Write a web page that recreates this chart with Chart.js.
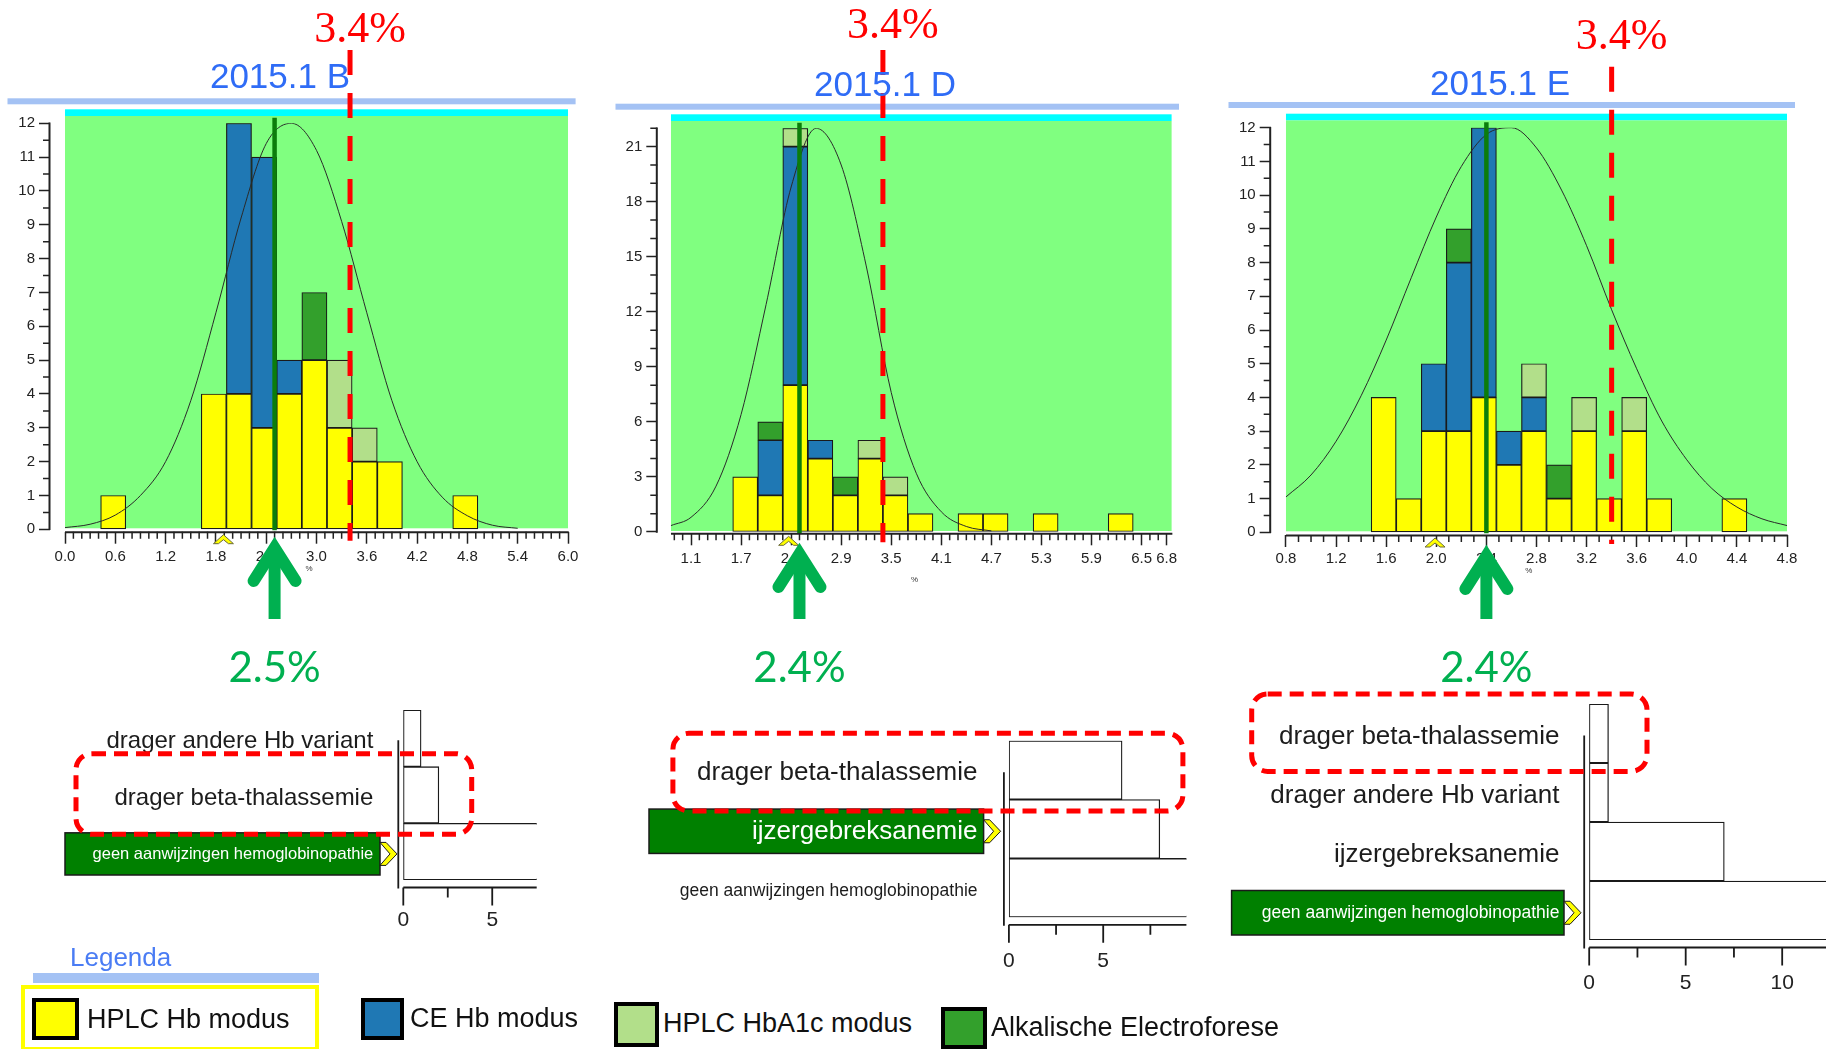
<!DOCTYPE html>
<html lang="nl">
<head>
<meta charset="utf-8">
<title>Hb-varianten rondzending 2015.1</title>
<script src="https://cdn.jsdelivr.net/npm/chart.js@4.4.1/dist/chart.umd.min.js"></script>
<style>
  html, body { margin: 0; padding: 0; background: #fff; }
  body { position: relative; width: 1826px; height: 1049px; overflow: hidden;
         font-family: 'Liberation Sans', Arial, sans-serif; }
  canvas { position: absolute; }
  .abs { position: absolute; white-space: nowrap; }
  .title { font-size: 35px; line-height: 35px; color: #2f6cf6; transform: translateX(-50%); }
  .cut { font-family: 'Liberation Serif', 'Times New Roman', serif; font-size: 44px; line-height: 44px;
         color: #ff0000; transform: translateX(-50%); }
  .meas { font-family: Lato, 'Open Sans', sans-serif; font-size: 42px; line-height: 42px;
          color: #00b050; transform: translateX(-50%); }
  .lg-title { font-size: 26px; line-height: 26px; color: #4a7cf4; }
  .lg-band { background: #a4c2f4; }
  .lg-frame { box-sizing: border-box; border: 4px solid #ffff00; }
  .swatch { position: absolute; box-sizing: border-box; border: 4px solid #000; }
  .lg-text { font-size: 27px; line-height: 27px; color: #111; }
</style>
</head>
<body>

<canvas id="histB" width="600" height="700" style="left:0px;top:0px"></canvas>
<canvas id="histD" width="600" height="700" style="left:600px;top:0px"></canvas>
<canvas id="histE" width="616" height="700" style="left:1210px;top:0px"></canvas>

<canvas id="diagB" width="560" height="290" style="left:0px;top:660px"></canvas>
<canvas id="diagD" width="600" height="310" style="left:600px;top:690px"></canvas>
<canvas id="diagE" width="616" height="356" style="left:1210px;top:654px"></canvas>

<div id="legend"></div>

<script>
// ---------------- data ----------------

const samples = ['2015.1 B', '2015.1 D', '2015.1 E'];
const sampleResult = [2.5, 2.4, 2.4];      // measured value (%) per sample
const cutoff = [3.4, 3.4, 3.4];            // decision limit (%)
const modeMarker = [1.89, 2.27, 1.99];     // yellow marker on the x axis

const methods = ['HPLC Hb modus', 'CE Hb modus', 'HPLC HbA1c modus', 'Alkalische Electroforese'];

// 2015.1 B  (bin centres, width 0.3)
const binsB     = [0.575, 1.775, 2.075, 2.375, 2.675, 2.975, 3.275, 3.575, 3.875, 4.775];
const hplcHbB   = [1, 4, 4, 3, 4, 5, 3, 2, 2, 1];
const ceHbB     = [0, 0, 8, 8, 1, 0, 0, 0, 0, 0];
const hplcA1cB  = [0, 0, 0, 0, 0, 0, 2, 1, 0, 0];
const alkB      = [0, 0, 0, 0, 0, 2, 0, 0, 0, 0];
const curveXB   = [0, 0.3, 0.6, 0.9, 1.2, 1.5, 1.8, 2.1, 2.4, 2.7, 3.0, 3.3, 3.6, 3.9, 4.2, 4.5, 4.8, 5.1, 5.4];
const curveYB   = [0.05, 0.15, 0.42, 1.0, 2.0, 3.8, 6.4, 9.2, 11.4, 12.0, 11.2, 9.1, 6.4, 3.8, 2.0, 0.95, 0.4, 0.12, 0.03];
const xTicksB   = [0, 0.6, 1.2, 1.8, 2.4, 3.0, 3.6, 4.2, 4.8, 5.4, 6.0];
const yTicksB   = [0, 1, 2, 3, 4, 5, 6, 7, 8, 9, 10, 11, 12];

// 2015.1 D  (bin centres, width 0.3)
const binsD     = [1.75, 2.05, 2.35, 2.65, 2.95, 3.25, 3.55, 3.85, 4.45, 4.75, 5.35, 6.25];
const hplcHbD   = [3, 2, 8, 4, 2, 4, 2, 1, 1, 1, 1, 1];
const ceHbD     = [0, 3, 13, 1, 0, 0, 0, 0, 0, 0, 0, 0];
const hplcA1cD  = [0, 0, 1, 0, 0, 1, 1, 0, 0, 0, 0, 0];
const alkD      = [0, 1, 0, 0, 1, 0, 0, 0, 0, 0, 0, 0];
const curveXD   = [0.86, 1.1, 1.4, 1.7, 2.0, 2.3, 2.6, 2.9, 3.2, 3.5, 3.8, 4.1, 4.4, 4.7];
const curveYD   = [0.35, 0.8, 2.5, 6.4, 12.4, 18.8, 22.0, 20.0, 14.5, 7.6, 3.2, 1.1, 0.3, 0.06];
const xTicksD   = [1.1, 1.7, 2.3, 2.9, 3.5, 4.1, 4.7, 5.3, 5.9, 6.5, 6.8];
const yTicksD   = [0, 3, 6, 9, 12, 15, 18, 21];

// 2015.1 E  (bin centres, width 0.2)
const binsE     = [1.58, 1.78, 1.98, 2.18, 2.38, 2.58, 2.78, 2.98, 3.18, 3.38, 3.58, 3.78, 4.38];
const hplcHbE   = [4, 1, 3, 3, 4, 2, 3, 1, 3, 1, 3, 1, 1];
const ceHbE     = [0, 0, 2, 5, 8, 1, 1, 0, 0, 0, 0, 0, 0];
const hplcA1cE  = [0, 0, 0, 0, 0, 0, 1, 0, 1, 0, 1, 0, 0];
const alkE      = [0, 0, 0, 1, 0, 0, 0, 1, 0, 0, 0, 0, 0];
const curveXE   = [0.8, 1.0, 1.2, 1.4, 1.6, 1.8, 2.0, 2.2, 2.4, 2.6, 2.8, 3.0, 3.2, 3.4, 3.6, 3.8, 4.0, 4.2, 4.4, 4.6, 4.8];
const curveYE   = [1.05, 1.7, 2.7, 4.05, 5.7, 7.55, 9.35, 10.85, 11.8, 12.0, 11.4, 10.15, 8.5, 6.6, 4.85, 3.3, 2.15, 1.3, 0.75, 0.4, 0.2];
const xTicksE   = [0.8, 1.2, 1.6, 2.0, 2.4, 2.8, 3.2, 3.6, 4.0, 4.4, 4.8];
const yTicksE   = [0, 1, 2, 3, 4, 5, 6, 7, 8, 9, 10, 11, 12];

// conclusions reported per sample
const diagB   = ['drager andere Hb variant', 'drager beta-thalassemie', 'geen aanwijzingen hemoglobinopathie'];
const countB  = [1, 2, 48];
const diagD   = ['drager beta-thalassemie', 'ijzergebreksanemie', 'geen aanwijzingen hemoglobinopathie'];
const countD  = [6, 8, 38];
const diagE   = ['drager beta-thalassemie', 'drager andere Hb variant', 'ijzergebreksanemie', 'geen aanwijzingen hemoglobinopathie'];
const countE  = [1, 1, 7, 43];
const expectedDiag = [2, 1, 3];   // highlighted (expected) conclusion
const markedDiag   = [1, 0, 0];   // circled conclusion

// ---------------- styling / layout ----------------

const METHOD_COLORS = ['#ffff00', '#1f78b4', '#b2df8a', '#33a02c'];
const FONT = "'Liberation Sans', Arial, sans-serif";

Chart.defaults.font.family = FONT;
Chart.defaults.color = '#222';

const histLayout = [
  { left: 0,    padding: { left: 0, top: 123.3, right: 32,   bottom: 126.2 }, yWidth: 50,   xHeight: 42.1, xPad: 4.6,
    xMin: -0.179, xMax: 6.0, start: 0,    yMin: -0.071, yMax: 12, yTop: 12, yMinor: 0.5,
    band: [7.5, 98.3, 575.6], cutTop: 50, arrowTip: 537, titleX: 280, titleTop: 58.4, cutTopText: 5.8 },
  { left: 600,  padding: { left: 0, top: 128.3, right: 28.4, bottom: 115.2 }, yWidth: 57.3, xHeight: 51.5, xPad: 4.6,
    xMin: 0.696,  xMax: 6.86, start: 0.86, yMin: -0.071, yMax: 22, yTop: 22, yMinor: 1,
    band: [15.5, 103.7, 579], cutTop: 50, arrowTip: 543, titleX: 885, titleTop: 66.4, cutTopText: 2.1 },
  { left: 1210, padding: { left: 0, top: 127.7, right: 39,   bottom: 124.2 }, yWidth: 60.7, xHeight: 40.8, xPad: 2.9,
    xMin: 0.678,  xMax: 4.8, start: 0.8,  yMin: -0.08,  yMax: 12, yTop: 12, yMinor: 0.5,
    band: [18.5, 102, 585], cutTop: 66.7, arrowTip: 545, titleX: 1500, titleTop: 65.4, cutTopText: 13.1 }
];

const diagLayout = [
  { padding: { left: 0, top: 50,   right: 23.3, bottom: 20 },   yWidth: 403.3, xMax: 7.5,   xTicks: [0, 5],     xMinor: [2.5],
    xPad: 27.4, yPad: 30,   font: 24, small: 16.5, boxLeft: 338.3, boxGap: 23.3, rect: { left: 327.3, right: 68.4, top: 13, bottom: 11 } },
  { padding: { left: 0, top: 50.7, right: 13.6, bottom: 32.7 }, yWidth: 408.9, xMax: 9.41,  xTicks: [0, 5],     xMinor: [2.5, 7.5],
    xPad: 31.8, yPad: 31.4, font: 26, small: 17.5, boxLeft: 359.9, boxGap: 25.3, rect: { left: 336, right: 174, top: 7.4, bottom: 11.4 } },
  { padding: { left: 0, top: 50,   right: 0,    bottom: 20 },   yWidth: 379.2, xMax: 12.27, xTicks: [0, 5, 10], xMinor: [2.5, 7.5],
    xPad: 30.7, yPad: 29.8, font: 26, small: 17.5, boxLeft: 357.6, boxGap: 25.2, rect: { left: 337.5, right: 57.8, top: 10, bottom: 8.4 } }
];

function xy(xs, ys) {
  return xs.map((x, i) => ({ x: x, y: ys[i] ? ys[i] : null }));
}

// ---------------- histogram decorations ----------------

function histDecor(L, d, i) {
  return {
    id: 'histDecor',
    beforeDraw(chart) {
      const { ctx, chartArea: a, scales: { x, y } } = chart;
      ctx.save();
      ctx.fillStyle = '#a4c2f4';
      ctx.fillRect(L.band[0], L.band[1], L.band[2] - L.band[0], 6);
      const gx = x.getPixelForValue(L.start);
      ctx.fillStyle = '#00ffff';
      ctx.fillRect(gx, a.top - 14, a.right - gx, 6.8);
      const gTop = a.top - 7.3;
      ctx.fillStyle = '#80ff80';
      ctx.fillRect(gx, gTop, a.right - gx, y.getPixelForValue(0) - 1 - gTop);
      ctx.restore();
    },
    afterDraw(chart) {
      const { ctx, chartArea: a, scales: { x, y } } = chart;
      const y0 = y.getPixelForValue(0);
      ctx.save();

      // axis lines
      ctx.strokeStyle = '#222';
      ctx.lineWidth = 2;
      ctx.beginPath();
      ctx.moveTo(a.left - 0.5, y.getPixelForValue(L.yTop) - 0.75);
      ctx.lineTo(a.left - 0.5, y0 + 0.75);
      ctx.moveTo(x.getPixelForValue(L.start), a.bottom + 0.5);
      ctx.lineTo(a.right + 0.75, a.bottom + 0.5);
      ctx.stroke();

      // minor ticks
      ctx.lineWidth = 1.5;
      ctx.beginPath();
      const nY = Math.round(L.yTop / L.yMinor);
      for (let k = 0; k <= nY; k++) {
        const v = k * L.yMinor;
        if (d.yTicks.includes(v)) continue;
        const py = y.getPixelForValue(v);
        ctx.moveTo(a.left - 7, py);
        ctx.lineTo(a.left, py);
      }
      const k0 = Math.ceil(L.start * 10 - 1e-6), k1 = Math.floor(L.xMax * 10 + 1e-6);
      for (let k = k0; k <= k1; k++) {
        const v = k / 10;
        if (d.xTicks.some(t => Math.abs(t - v) < 1e-6)) continue;
        const px = x.getPixelForValue(v);
        ctx.moveTo(px, a.bottom);
        ctx.lineTo(px, a.bottom + 7);
      }
      ctx.stroke();

      // measured value
      const gx = x.getPixelForValue(sampleResult[i]);
      ctx.strokeStyle = '#0b7d0b';
      ctx.lineWidth = 4.5;
      ctx.beginPath();
      ctx.moveTo(gx, a.top - 5.5);
      ctx.lineTo(gx, y0 + 1);
      ctx.stroke();

      // decision limit
      const rx = x.getPixelForValue(cutoff[i]);
      ctx.strokeStyle = '#ff0000';
      ctx.lineWidth = 5;
      ctx.setLineDash([25, 18]);
      ctx.beginPath();
      ctx.moveTo(rx, L.cutTop);
      ctx.lineTo(rx, a.bottom + 9);
      ctx.stroke();
      ctx.setLineDash([]);

      // mode marker on the axis
      const mx = x.getPixelForValue(modeMarker[i]), my = a.bottom + 3;
      ctx.beginPath();
      ctx.moveTo(mx - 10, my + 9);
      ctx.lineTo(mx, my);
      ctx.lineTo(mx + 10, my + 9);
      ctx.lineTo(mx + 5, my + 9);
      ctx.lineTo(mx, my + 5);
      ctx.lineTo(mx - 5, my + 9);
      ctx.closePath();
      ctx.fillStyle = '#ffff00';
      ctx.fill();
      ctx.strokeStyle = '#6b6b3a';
      ctx.lineWidth = 1;
      ctx.stroke();

      // arrow pointing at the measured value
      const t = L.arrowTip;
      ctx.strokeStyle = '#00b050';
      ctx.lineWidth = 12;
      ctx.lineCap = 'butt';
      ctx.beginPath();
      ctx.moveTo(gx, t + 12);
      ctx.lineTo(gx, 619);
      ctx.stroke();
      ctx.lineCap = 'round';
      ctx.lineJoin = 'miter';
      ctx.miterLimit = 10;
      ctx.beginPath();
      ctx.moveTo(gx - 21, t + 44);
      ctx.lineTo(gx, t + 11);
      ctx.lineTo(gx + 21, t + 44);
      ctx.stroke();

      ctx.restore();
    }
  };
}

function makeHistogram(id, d, i) {
  const L = histLayout[i];
  const barSet = (k, vals) => ({
    type: 'bar',
    label: methods[k],
    data: xy(d.bins, vals),
    backgroundColor: METHOD_COLORS[k],
    borderColor: '#1a1a1a',
    borderWidth: 1.2,
    borderSkipped: false,
    barPercentage: 1,
    categoryPercentage: 1,
    order: 2
  });
  return new Chart(document.getElementById(id), {
    type: 'bar',
    data: {
      datasets: [
        barSet(0, d.hplcHb),
        barSet(1, d.ceHb),
        barSet(2, d.hplcA1c),
        barSet(3, d.alk),
        {
          type: 'line',
          label: 'normaalverdeling',
          data: d.curveX.map((x, k) => ({ x: x, y: d.curveY[k] })),
          borderColor: '#2a2a2a',
          borderWidth: 1,
          pointRadius: 0,
          fill: false,
          cubicInterpolationMode: 'monotone',
          order: 1
        }
      ]
    },
    options: {
      responsive: false,
      animation: false,
      devicePixelRatio: 1,
      layout: { padding: L.padding },
      scales: {
        x: {
          type: 'linear', offset: false, bounds: 'data', stacked: true,
          min: L.xMin, max: L.xMax,
          afterBuildTicks: s => { s.ticks = d.xTicks.map(v => ({ value: v })); },
          afterFit: s => { s.height = L.xHeight; },
          grid: { offset: false, drawOnChartArea: false, drawTicks: true, tickLength: 12, tickWidth: 1.5, tickColor: '#222' },
          border: { display: false },
          ticks: { autoSkip: false, maxRotation: 0, padding: L.xPad, font: { size: 15 }, color: '#222',
                   callback: v => Number(v).toFixed(1) },
          title: { display: true, text: '%', font: { size: 8 }, padding: 0, color: '#333' }
        },
        y: {
          type: 'linear', bounds: 'data', stacked: true,
          min: L.yMin, max: L.yMax,
          afterBuildTicks: s => { s.ticks = d.yTicks.map(v => ({ value: v })); },
          afterFit: s => { s.width = L.yWidth; },
          grid: { drawOnChartArea: false, drawTicks: true, tickLength: 11, tickWidth: 1.5, tickColor: '#222' },
          border: { display: false },
          ticks: { padding: 4, font: { size: 15 }, color: '#222', callback: v => String(v) }
        }
      },
      plugins: { legend: { display: false }, tooltip: { enabled: false } }
    },
    plugins: [histDecor(L, d, i)]
  });
}

// ---------------- conclusion bars ----------------

function diagDecor(L, i) {
  const bandOf = (y, idx) => {
    const c = y.getPixelForValue(idx);
    const h = y.getPixelForValue(1) - y.getPixelForValue(0);
    return { top: c - h / 2, bottom: c + h / 2 };
  };
  return {
    id: 'diagDecor',
    beforeDraw(chart) {
      const { ctx, chartArea: a, scales: { y } } = chart;
      const b = bandOf(y, expectedDiag[i]);
      const top = b.top + 9.5, bot = b.bottom - 5;
      const left = a.left - L.boxLeft, right = a.left - L.boxGap;
      ctx.save();
      ctx.fillStyle = '#008000';
      ctx.fillRect(left, top, right - left, bot - top);
      ctx.strokeStyle = '#1a1a1a';
      ctx.lineWidth = 1.5;
      ctx.strokeRect(left, top, right - left, bot - top);
      // chevron
      const cx = right, cy = (top + bot) / 2, h = 23;
      ctx.beginPath();
      ctx.moveTo(cx, cy - h / 2);
      ctx.lineTo(cx + 6, cy - h / 2);
      ctx.lineTo(cx + 17, cy);
      ctx.lineTo(cx + 6, cy + h / 2);
      ctx.lineTo(cx, cy + h / 2);
      ctx.lineTo(cx + 10, cy);
      ctx.closePath();
      ctx.fillStyle = '#ffff00';
      ctx.fill();
      ctx.lineWidth = 1;
      ctx.stroke();
      ctx.restore();
    },
    afterDraw(chart) {
      const { ctx, chartArea: a, scales: { x, y } } = chart;
      const axisY = a.bottom + 7.5;
      ctx.save();
      ctx.strokeStyle = '#1a1a1a';
      ctx.lineWidth = 1.8;
      ctx.beginPath();
      ctx.moveTo(a.left - 5, y.getPixelForValue(0) + 2);
      ctx.lineTo(a.left - 5, axisY + 0.9);
      ctx.moveTo(x.getPixelForValue(0), axisY);
      ctx.lineTo(a.right, axisY);
      L.xTicks.forEach(v => { const px = x.getPixelForValue(v); ctx.moveTo(px, axisY); ctx.lineTo(px, axisY + 18); });
      L.xMinor.forEach(v => { const px = x.getPixelForValue(v); ctx.moveTo(px, axisY); ctx.lineTo(px, axisY + 10); });
      ctx.stroke();

      // circled conclusion
      const b = bandOf(y, markedDiag[i]);
      const rl = a.left - L.rect.left, rr = a.left + L.rect.right;
      const rt = b.top - L.rect.top, rb = b.bottom + L.rect.bottom;
      ctx.strokeStyle = '#ff0000';
      ctx.lineWidth = 5;
      ctx.setLineDash([14, 8]);
      ctx.beginPath();
      ctx.roundRect(rl, rt, rr - rl, rb - rt, 16);
      ctx.stroke();
      ctx.restore();
    }
  };
}

function makeDiagnosis(id, labels, counts, i) {
  const L = diagLayout[i];
  return new Chart(document.getElementById(id), {
    type: 'bar',
    data: {
      labels: labels,
      datasets: [{
        data: counts,
        backgroundColor: '#ffffff',
        borderColor: '#1a1a1a',
        borderWidth: 1.3,
        borderSkipped: false,
        barPercentage: 1,
        categoryPercentage: 1
      }]
    },
    options: {
      indexAxis: 'y',
      responsive: false,
      animation: false,
      devicePixelRatio: 1,
      layout: { padding: L.padding },
      scales: {
        x: {
          type: 'linear', bounds: 'data', min: 0, max: L.xMax,
          afterBuildTicks: s => { s.ticks = L.xTicks.map(v => ({ value: v })); },
          afterFit: s => { s.height = 50; },
          grid: { display: false, drawTicks: false },
          border: { display: false },
          ticks: { padding: L.xPad, font: { size: 21 }, color: '#222', maxRotation: 0, autoSkip: false,
                   callback: v => String(v) }
        },
        y: {
          type: 'category', offset: true,
          afterFit: s => { s.width = L.yWidth; },
          grid: { display: false, drawTicks: false },
          border: { display: false },
          ticks: {
            padding: L.yPad, autoSkip: false, labelOffset: 3,
            font: c => ({ size: labels[c.index].length > 30 ? L.small : L.font }),
            color: c => (c.index === expectedDiag[i] ? '#ffffff' : '#1c1c1c')
          }
        }
      },
      plugins: { legend: { display: false }, tooltip: { enabled: false } }
    },
    plugins: [diagDecor(L, i)]
  });
}

// ---------------- build ----------------

const panels = [
  { bins: binsB, hplcHb: hplcHbB, ceHb: ceHbB, hplcA1c: hplcA1cB, alk: alkB, curveX: curveXB, curveY: curveYB, xTicks: xTicksB, yTicks: yTicksB },
  { bins: binsD, hplcHb: hplcHbD, ceHb: ceHbD, hplcA1c: hplcA1cD, alk: alkD, curveX: curveXD, curveY: curveYD, xTicks: xTicksD, yTicks: yTicksD },
  { bins: binsE, hplcHb: hplcHbE, ceHb: ceHbE, hplcA1c: hplcA1cE, alk: alkE, curveX: curveXE, curveY: curveYE, xTicks: xTicksE, yTicks: yTicksE }
];

const histIds = ['histB', 'histD', 'histE'];
const histCharts = panels.map((d, i) => makeHistogram(histIds[i], d, i));

makeDiagnosis('diagB', diagB, countB, 0);
makeDiagnosis('diagD', diagD, countD, 1);
makeDiagnosis('diagE', diagE, countE, 2);

// titles and value labels placed on the chart scales
histCharts.forEach((c, i) => {
  const L = histLayout[i];
  const t = document.createElement('div');
  t.className = 'abs title';
  t.textContent = samples[i];
  t.style.left = L.titleX + 'px';
  t.style.top = L.titleTop + 'px';
  document.body.appendChild(t);

  const cut = document.createElement('div');
  cut.className = 'abs cut';
  cut.textContent = cutoff[i].toFixed(1) + '%';
  cut.style.left = (L.left + c.scales.x.getPixelForValue(cutoff[i]) + 10) + 'px';
  cut.style.top = L.cutTopText + 'px';
  document.body.appendChild(cut);

  const m = document.createElement('div');
  m.className = 'abs meas';
  m.textContent = sampleResult[i].toFixed(1) + '%';
  m.style.left = (L.left + c.scales.x.getPixelForValue(sampleResult[i])) + 'px';
  m.style.top = '645px';
  document.body.appendChild(m);
});

// legend
(function buildLegend() {
  const box = document.getElementById('legend');
  const add = (cls, css, text) => {
    const el = document.createElement('div');
    el.className = cls;
    Object.assign(el.style, css);
    if (text) el.textContent = text;
    box.appendChild(el);
  };
  add('abs lg-title', { left: '70px', top: '944px' }, 'Legenda');
  add('abs lg-band', { left: '33px', top: '973px', width: '286px', height: '10px' });
  add('abs lg-frame', { left: '21px', top: '985px', width: '298px', height: '66px' });
  const sw = [
    { left: 31.5, top: 998, w: 47, h: 42 },
    { left: 360.7, top: 998, w: 43, h: 42 },
    { left: 613.6, top: 1001.7, w: 45.5, h: 45 },
    { left: 941, top: 1006.7, w: 46, h: 42 }
  ];
  const txt = [{ left: 87, top: 1005.8 }, { left: 410, top: 1004.8 }, { left: 663, top: 1009.8 }, { left: 991, top: 1013.5 }];
  methods.forEach((name, k) => {
    add('swatch', { left: sw[k].left + 'px', top: sw[k].top + 'px', width: sw[k].w + 'px', height: sw[k].h + 'px',
                    background: METHOD_COLORS[k] });
    add('abs lg-text', { left: txt[k].left + 'px', top: txt[k].top + 'px' }, name);
  });
})();
</script>
</body>
</html>
